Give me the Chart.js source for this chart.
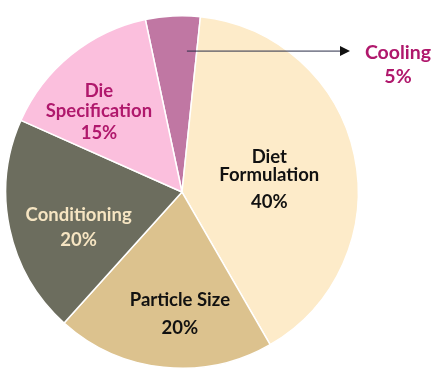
<!DOCTYPE html>
<html>
<head>
<meta charset="utf-8">
<script src="https://cdn.jsdelivr.net/npm/chart.js@4"></script>
<style>
  html,body{margin:0;padding:0;background:#fff}
  #wrap{width:440px;height:376px}
</style>
</head>
<body>
<div id="wrap"><canvas id="pie" width="440" height="376"></canvas></div>
<script>
// data
const categories=['Cooling','Diet Formulation','Particle Size','Conditioning','Die Specification'];
const shares=[5,40,20,20,15];
const labelLines=[['Cooling','5%'],['Diet','Formulation','40%'],['Particle Size','20%'],['Conditioning','20%'],['Die','Specification','15%']];

const sliceColors=['#c077a3','#fdebc9','#dcc28e','#6c6d5e','#fbbfdd'];
const textColors=['#b0186c','#111111','#111111','#f6e5c2','#b0186c'];
// where each label sits: fraction of radius along the slice mid angle, plus small angle nudge (deg)
const labelPos=[null,{f:0.5,a:4,gap:[18,27]},{f:0.69,a:-5,gap:[28]},{f:0.62,a:-7,gap:[25]},{f:0.655,a:-7,gap:[20,22]}];

const sliceLabels={
  id:'sliceLabels',
  afterDatasetsDraw(chart){
    const ctx=chart.ctx;
    const arcs=chart.getDatasetMeta(0).data;
    ctx.save();
    ctx.font='bold 18.5px Lato, "Open Sans", sans-serif';
    ctx.textAlign='center';ctx.textBaseline='middle';
    arcs.forEach((arc,i)=>{
      const p=labelPos[i]; if(!p) return;
      const mid=(arc.startAngle+arc.endAngle)/2+p.a*Math.PI/180;
      const cx=arc.x+Math.cos(mid)*arc.outerRadius*p.f;
      const cy=arc.y+Math.sin(mid)*arc.outerRadius*p.f;
      const lines=labelLines[i];
      let total=p.gap.reduce((s,g)=>s+g,0);
      let y=cy-total/2;
      ctx.fillStyle=textColors[i];
      lines.forEach((t,k)=>{ctx.fillText(t,cx,y); if(k<p.gap.length) y+=p.gap[k];});
    });
    // cooling callout
    const c=arcs[0];
    const mid=(c.startAngle+c.endAngle)/2+5*Math.PI/180;
    const sx=c.x+Math.cos(mid)*c.outerRadius*0.8, sy=c.y+Math.sin(mid)*c.outerRadius*0.8;
    const ex=350;
    ctx.strokeStyle='#2a2d48';ctx.lineWidth=1;
    ctx.beginPath();ctx.moveTo(sx,sy);ctx.lineTo(ex-9,sy);ctx.stroke();
    ctx.fillStyle='#111';
    ctx.beginPath();ctx.moveTo(ex,sy);ctx.lineTo(ex-10,sy-5);ctx.lineTo(ex-10,sy+5);ctx.closePath();ctx.fill();
    ctx.fillStyle=textColors[0];
    ctx.font='bold 19.5px Lato, "Open Sans", sans-serif';
    ctx.fillText(labelLines[0][0],398,sy+2);
    ctx.fillText(labelLines[0][1],398,sy+26);
    ctx.restore();
  }
};

new Chart(document.getElementById('pie'),{
  type:'pie',
  data:{labels:categories,datasets:[{data:shares,backgroundColor:sliceColors,borderColor:'#ffffff',borderWidth:1.5,hoverOffset:0}]},
  options:{
    responsive:false,animation:false,rotation:-12,
    layout:{padding:{left:5,right:81,top:15,bottom:7}},
    plugins:{legend:{display:false},tooltip:{enabled:false}}
  },
  plugins:[sliceLabels]
});
</script>
</body>
</html>
